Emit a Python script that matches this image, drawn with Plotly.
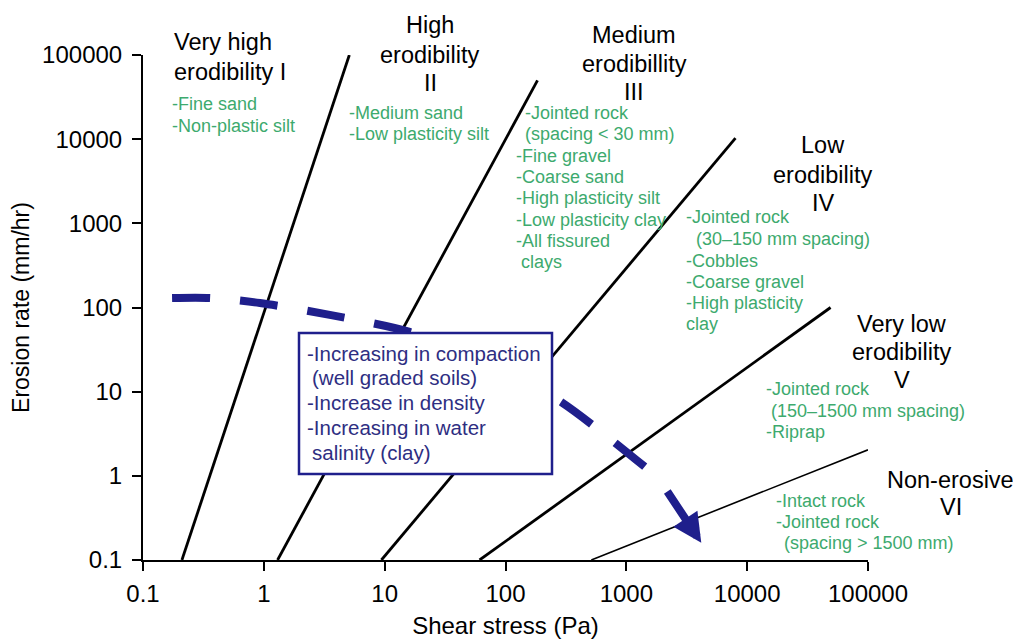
import numpy as np
import plotly.graph_objects as go

# ---- data ----
class_ids = ["I", "II", "III", "IV", "V"]
line_x_start = [0.21, 1.3, 9.4, 61, 513]
line_y_start = [0.1, 0.1, 0.1, 0.1, 0.1]
line_x_end = [5.1, 184, 8000, 49000, 100000]
line_y_end = [100000, 50000, 10300, 100, 2.04]

trend_x = [0.174, 0.36, 0.927, 3.51, 16.1, 73.8, 296, 1462]
trend_y = [130, 130, 113, 81.7, 51.3, 22.6, 7.36, 1.24]
arrow_tail = (2143, 0.68)
arrow_tip = (4169, 0.16)

tick_vals = [0.1, 1, 10, 100, 1000, 10000, 100000]
tick_text = ["0.1", "1", "10", "100", "1000", "10000", "100000"]

# class labels: (lines, x pixel, baselines, anchor)
class_labels = [
    (["Very high", "erodibility I"], 175, [50, 80], "left"),
    (["High", "erodibility", "II"], 430, [33, 63, 91], "center"),
    (["Medium", "erodibillity", "III"], 634, [43, 72, 100], "center"),
    (["Low", "erodibility", "IV"], 823, [153, 183, 211], "center"),
    (["Very low", "erodibility", "V"], 902, [332, 360, 388], "center"),
    (["Non-erosive", "VI"], 951, [488, 515], "center"),
]
# material lists: (text, left x pixel, baseline pixel)
material_lines = [
    ("-Fine sand", 173, 110), ("-Non-plastic silt", 173, 132),
    ("-Medium sand", 350, 119), ("-Low plasticity silt", 350, 140),
    ("-Jointed rock", 526, 119), ("(spacing < 30 mm)", 526, 140),
    ("-Fine gravel", 517, 162), ("-Coarse sand", 517, 183),
    ("-High plasticity silt", 517, 204), ("-Low plasticity clay", 517, 226),
    ("-All fissured", 517, 247), ("clays", 522, 268),
    ("-Jointed rock", 687, 223), ("(30–150 mm spacing)", 697, 245),
    ("-Cobbles", 687, 267), ("-Coarse gravel", 687, 288),
    ("-High plasticity", 687, 309), ("clay", 687, 330),
    ("-Jointed rock", 767, 395), ("(150–1500 mm spacing)", 772, 417), ("-Riprap", 767, 438),
    ("-Intact rock", 777, 507), ("-Jointed rock", 777, 528), ("(spacing > 1500 mm)", 785, 549),
]
box_lines = [
    ("-Increasing in compaction", 308, 361), ("(well graded soils)", 313, 385),
    ("-Increase in density", 308, 410), ("-Increasing in water", 308, 435),
    ("salinity (clay)", 313, 460),
]

# ---- layout helpers (page pixel -> paper); page body adds an 8px offset ----
OFF = 8
W, H = 1021 - OFF, 639 - OFF
L, R, T, B = 143 - OFF, 153, 55 - OFF, 79
PW, PH = W - L - R, H - T - B
LEFT_PAD = 3  # annotation inner padding


def px(x):
    return (x - OFF - L) / PW


def py(y):
    return (H - B - (y - OFF)) / PH


FONT = "Liberation Sans, Arial, sans-serif"
GREEN = "#3DAA6E"
NAVY = "#1F1F8C"
BOXTXT = "#2E2E82"

fig = go.Figure()

for i, cid in enumerate(class_ids):
    fig.add_trace(go.Scatter(
        x=[line_x_start[i], line_x_end[i]],
        y=[line_y_start[i], line_y_end[i]],
        mode="lines",
        line=dict(color="black", width=1.6 if cid == "V" else 2.8),
        name=cid, showlegend=False, hoverinfo="skip"))

fig.add_trace(go.Scatter(
    x=trend_x, y=trend_y, mode="lines",
    line=dict(color=NAVY, width=8, dash="38px,30px", shape="spline", smoothing=0.8),
    showlegend=False, hoverinfo="skip"))

annotations = []
annotations.append(dict(
    x=np.log10(arrow_tip[0]), y=np.log10(arrow_tip[1]),
    ax=np.log10(arrow_tail[0]), ay=np.log10(arrow_tail[1]),
    xref="x", yref="y", axref="x", ayref="y",
    text="", showarrow=True, arrowhead=2, arrowsize=0.72, arrowwidth=8,
    arrowcolor=NAVY, standoff=0))


def add_line(txt, x, base, anchor, size, color):
    if anchor == "left":
        x = x - LEFT_PAD
    annotations.append(dict(
        x=px(x), y=py(base - 0.35 * size), xref="paper", yref="paper", text=txt,
        showarrow=False, xanchor=anchor, yanchor="middle", align=anchor,
        font=dict(family=FONT, size=size, color=color)))


for lines, x, bases, anchor in class_labels:
    for txt, b in zip(lines, bases):
        add_line(txt, x, b, anchor, 23.5, "black")

for txt, x, b in material_lines:
    add_line(txt, x, b, "left", 18, GREEN)

for txt, x, b in box_lines:
    add_line(txt, x, b, "left", 20.5, BOXTXT)

shapes = [dict(type="rect", xref="paper", yref="paper",
               x0=px(299), x1=px(552), y0=py(474), y1=py(333),
               line=dict(color=NAVY, width=2.5), fillcolor="white", layer="above")]

axis_common = dict(
    type="log", range=[-1, 5], tickmode="array", tickvals=tick_vals, ticktext=tick_text,
    showgrid=False, zeroline=False, showline=True, linecolor="black", linewidth=2,
    ticks="outside", ticklen=9, tickwidth=2, tickcolor="black", automargin=False,
    tickfont=dict(family=FONT, size=24, color="black"))

fig.update_layout(
    width=W, height=H,
    margin=dict(l=L, r=R, t=T, b=B),
    paper_bgcolor="white", plot_bgcolor="white",
    xaxis=dict(**axis_common, ticklabelstandoff=2,
               title=dict(text="Shear stress (Pa)", standoff=17,
                          font=dict(family=FONT, size=24, color="black"))),
    yaxis=dict(**axis_common, ticklabelstandoff=5,
               title=dict(text="Erosion rate (mm/hr)", standoff=8,
                          font=dict(family=FONT, size=23, color="black"))),
    annotations=annotations, shapes=shapes)

fig.write_html("out.html")
